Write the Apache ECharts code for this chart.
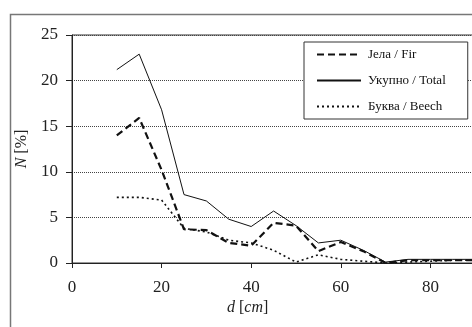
<!DOCTYPE html>
<html>
<head>
<meta charset="utf-8">
<script src="https://cdn.jsdelivr.net/npm/echarts@6/dist/echarts.min.js"></script>
<style>
  html, body { margin: 0; padding: 0; background: #fff; }
  #chart { width: 472px; height: 327px; }
</style>
</head>
<body>
<div id="chart"></div>
<script>
// diameter classes d [cm]
const diameters = [10, 15, 20, 25, 30, 35, 40, 45, 50, 55, 60, 65, 70, 75, 80, 85, 90];
const firValues = [14.0, 15.9, 10.2, 3.7, 3.6, 2.2, 1.9, 4.4, 4.1, 1.3, 2.3, 1.3, 0.0, 0.3, 0.3, 0.3, 0.3];
const totalValues = [21.2, 22.9, 16.8, 7.5, 6.8, 4.8, 4.0, 5.7, 4.1, 2.2, 2.5, 1.4, 0.1, 0.4, 0.4, 0.4, 0.4];
const beechValues = [7.2, 7.2, 6.9, 3.8, 3.4, 2.5, 2.2, 1.4, 0.1, 0.9, 0.4, 0.2, 0.0, 0.1, 0.2, 0.3, 0.3];
const xTicks = [0, 20, 40, 60, 80, 100];
const yTicks = [0, 5, 10, 15, 20, 25];

const serif = "'Liberation Serif', 'DejaVu Serif', serif";

const chart = echarts.init(document.getElementById('chart'));

const toPairs = (vals) => diameters.map((d, i) => [d, vals[i]]);

const option = {
  backgroundColor: '#fff',
  animation: false,
  textStyle: { fontFamily: serif },
  grid: {
    left: 72,
    top: 35,
    bottom: 64,
    right: -48,
    outerBoundsMode: 'none',
    containLabel: false,
    show: true,
    borderColor: '#333',
    borderWidth: 1,
    backgroundColor: 'transparent',
  },
  legend: {
    orient: 'vertical',
    left: 304,
    top: 42,
    padding: [6, 22, 6, 12],
    itemGap: 13,
    itemWidth: 44,
    itemHeight: 10,
    backgroundColor: '#fff',
    borderColor: '#333',
    borderWidth: 1,
    itemStyle: { opacity: 0 },
    textStyle: { fontFamily: serif, fontSize: 13, color: '#111', padding: [0, 0, 0, 2] },
    data: ['Јела / Fir', 'Укупно / Total', 'Буква / Beech'],
  },
  xAxis: {
    type: 'value',
    min: xTicks[0],
    max: xTicks[xTicks.length - 1],
    interval: 20,
    axisLine: { lineStyle: { color: '#222', width: 1 } },
    axisTick: { show: true, inside: false, length: 5, lineStyle: { color: '#222' } },
    axisLabel: { color: '#222', fontSize: 17, fontFamily: serif, margin: 16 },
    splitLine: { show: false },
  },
  yAxis: {
    type: 'value',
    min: yTicks[0],
    max: yTicks[yTicks.length - 1],
    interval: 5,
    name: '{i|N} [%]',
    nameLocation: 'middle',
    nameGap: 40,
    nameTextStyle: {
      fontFamily: serif,
      fontSize: 16,
      color: '#222',
      rich: { i: { fontStyle: 'italic', fontFamily: serif, fontSize: 16, color: '#222' } },
    },
    axisLine: { show: true, lineStyle: { color: '#222', width: 1 } },
    axisTick: { show: true, inside: false, length: 6, lineStyle: { color: '#222' } },
    axisLabel: { color: '#222', fontSize: 17, fontFamily: serif, margin: 14 },
    splitLine: { show: true, lineStyle: { type: [1, 1], color: '#444', width: 1 } },
  },
  graphic: [
    {
      type: 'rect',
      left: 8,
      top: 12,
      shape: { width: 520, height: 400 },
      style: { fill: 'none', stroke: '#777', lineWidth: 1.5 },
      z: 100,
      silent: true,
    },
    {
      type: 'text',
      left: 227,
      top: 300,
      style: {
        text: '{i|d} [{i|cm}]',
        font: "16px 'Liberation Serif'",
        fill: '#222',
        rich: { i: { fontStyle: 'italic', fontFamily: serif, fontSize: 16, fill: '#222' } },
      },
    },
  ],
  series: [
    {
      name: 'Јела / Fir',
      type: 'line',
      data: toPairs(firValues),
      symbol: 'none',
      lineStyle: { color: '#111', width: 2.2, type: [7, 4] },
      itemStyle: { color: '#111' },
      z: 4,
    },
    {
      name: 'Укупно / Total',
      type: 'line',
      data: toPairs(totalValues),
      symbol: 'none',
      lineStyle: { color: '#111', width: 1, type: 'solid' },
      itemStyle: { color: '#111' },
      z: 3,
    },
    {
      name: 'Буква / Beech',
      type: 'line',
      data: toPairs(beechValues),
      symbol: 'none',
      lineStyle: { color: '#111', width: 1.6, type: [2, 3] },
      itemStyle: { color: '#111' },
      z: 2,
    },
  ],
};

chart.setOption(option);
</script>
</body>
</html>
